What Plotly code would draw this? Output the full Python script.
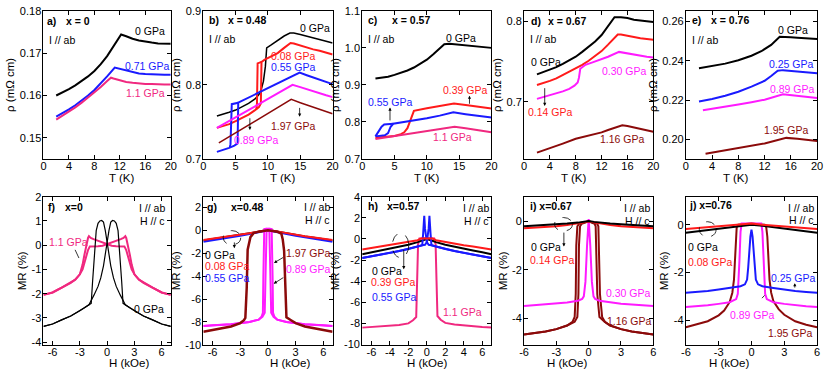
import plotly.graph_objects as go

FONT = "Arial, 'Liberation Sans', sans-serif"
BLACK = "#000000"
RED = "#ff1a1a"
BLUE = "#1a1aff"
MAGENTA = "#ff1aff"
PINK = "#f0287f"
DARKRED = "#8b0a0a"

# ---------------- (a) x = 0 ----------------
A_T_0 = [2, 3, 4, 5, 6, 7, 8, 9, 10, 11, 11.8, 12.2, 13, 14, 15, 16, 17, 18, 19, 20]
A_RHO_0 = [0.1600, 0.1607, 0.1615, 0.1624, 0.1634, 0.1645, 0.1658, 0.1674, 0.1693, 0.1716, 0.1735, 0.1744, 0.1740,
           0.1734, 0.1730, 0.1727, 0.1725, 0.1723, 0.1722, 0.1722]
A_T_071 = [2, 3, 4, 5, 6, 7, 8, 9, 10, 11.2, 12, 13, 14, 15, 16, 17, 18, 19, 20]
A_RHO_071 = [0.1550, 0.1558, 0.1567, 0.1577, 0.1588, 0.1600, 0.1613, 0.1628, 0.1645, 0.1666, 0.1663, 0.1658, 0.1655,
             0.1652, 0.1651, 0.1650, 0.1650, 0.1649, 0.1649]
A_T_11 = [2, 3, 4, 5, 6, 7, 8, 9, 10, 10.6, 11, 12, 13, 14, 15, 16, 17, 18, 19, 20]
A_RHO_11 = [0.1543, 0.1552, 0.1562, 0.1572, 0.1583, 0.1595, 0.1607, 0.1620, 0.1634, 0.1642, 0.1640, 0.1636, 0.1632,
            0.1630, 0.1628, 0.1627, 0.1627, 0.1626, 0.1626, 0.1626]

# ---------------- (b) x = 0.48 ----------------
B_T_0 = [2.1, 3, 4, 5, 6, 7, 8, 8.6, 9.0, 9.3, 9.6, 9.8, 10.5, 11.5, 12.5, 13.4, 14, 15, 16, 17, 18, 19, 20]
B_RHO_0 = [0.758, 0.760, 0.763, 0.766, 0.770, 0.775, 0.781, 0.787, 0.795, 0.805, 0.825, 0.850, 0.854, 0.860, 0.866,
           0.870, 0.870, 0.868, 0.866, 0.864, 0.861, 0.859, 0.8565]
B_T_008 = [2.1, 3, 4, 5, 6, 7, 8, 8.6, 8.9, 9.0, 9.5, 10.5, 11.5, 12.5, 13.5, 14, 15, 16, 17, 18, 19, 20]
B_RHO_008 = [0.742, 0.744, 0.747, 0.751, 0.755, 0.760, 0.766, 0.770, 0.775, 0.831, 0.834, 0.838, 0.843, 0.850, 0.8565,
             0.856, 0.853, 0.850, 0.848, 0.846, 0.843, 0.841]
B_T_008_LOOP = [9.0, 8.4, 8.3, 8.2]
B_RHO_008_LOOP = [0.831, 0.829, 0.775, 0.767]
B_T_055 = [2.1, 3, 4, 4.8, 5.3, 5.4, 6, 7, 8, 9, 10, 11, 12, 13, 14.9, 16, 17, 18, 19, 20]
B_RHO_055 = [0.7096, 0.712, 0.715, 0.718, 0.721, 0.776, 0.7786, 0.7829, 0.7871, 0.7914, 0.7956, 0.7999, 0.8041, 0.8084,
             0.8165, 0.813, 0.810, 0.807, 0.804, 0.801]
B_T_055_LOOP = [5.4, 4.4, 4.2, 4.1]
B_RHO_055_LOOP = [0.776, 0.774, 0.720, 0.716]
B_T_089 = [2.1, 4, 6, 8, 10, 12, 13.8, 15, 16, 17, 18, 19, 20]
B_RHO_089 = [0.742, 0.751, 0.761, 0.771, 0.781, 0.791, 0.800, 0.797, 0.794, 0.791, 0.788, 0.786, 0.7835]
B_T_197 = [2.4, 4, 6, 8, 10, 12, 13.6, 15, 16, 17, 18, 19, 20]
B_RHO_197 = [0.7217, 0.730, 0.741, 0.751, 0.7617, 0.772, 0.7804, 0.776, 0.773, 0.770, 0.767, 0.764, 0.761]

# ---------------- (c) x = 0.57 ----------------
C_T_0 = [2.05, 3, 4, 5, 6, 7, 8, 9, 10, 11, 12, 12.7, 13.5, 14, 15, 16, 17, 18, 19, 20]
C_RHO_0 = [0.917, 0.919, 0.922, 0.927, 0.932, 0.939, 0.947, 0.957, 0.968, 0.983, 1.000, 1.010, 1.011, 1.010, 1.009,
           1.007, 1.005, 1.003, 1.002, 1.000]
C_T_039 = [2.05, 3, 4, 5, 6, 6.5, 7.0, 7.4, 7.8, 8.0, 10, 12, 14.2, 16, 18, 20]
C_RHO_039 = [0.757, 0.758, 0.759, 0.762, 0.767, 0.772, 0.783, 0.803, 0.825, 0.830, 0.837, 0.844, 0.850, 0.846, 0.841,
             0.8365]
C_T_055 = [2.05, 2.5, 3.0, 3.5, 4.0, 4.4, 4.8, 6, 8, 10, 12, 14.1, 16, 18, 20]
C_RHO_055 = [0.761, 0.762, 0.763, 0.764, 0.770, 0.787, 0.795, 0.798, 0.803, 0.810, 0.817, 0.826, 0.821, 0.816, 0.812]
C_T_055_LOOP = [2.05, 2.6, 3.0, 3.4, 4.8]
C_RHO_055_LOOP = [0.761, 0.775, 0.787, 0.793, 0.795]
C_T_11 = [2.05, 4, 6, 8, 10, 12, 14.3, 16, 18, 20]
C_RHO_11 = [0.754, 0.759, 0.765, 0.770, 0.776, 0.781, 0.787, 0.783, 0.777, 0.772]

# ---------------- (d) x = 0.67 ----------------
D_T = [2, 3, 4, 5, 6, 7, 8, 9, 10, 11, 12, 13, 13.5, 14, 15, 16, 17, 18, 19, 20]
D_RHO_0 = [0.734, 0.737, 0.740, 0.743, 0.747, 0.751, 0.756, 0.762, 0.768, 0.775, 0.783, 0.794, 0.801, 0.805, 0.805,
           0.804, 0.802, 0.801, 0.800, 0.799]
D_T_014 = [2, 3, 4, 5, 6, 7, 8, 9, 10, 11, 12, 13, 14, 14.5, 15, 16, 17, 18, 19, 20]
D_RHO_014 = [0.7208, 0.723, 0.726, 0.729, 0.733, 0.737, 0.741, 0.746, 0.751, 0.757, 0.763, 0.771, 0.780, 0.7836, 0.7836,
             0.782, 0.780, 0.779, 0.778, 0.777]
D_T_030 = [2, 3, 4, 5, 6, 7, 7.8, 8.3, 8.5, 8.7, 9.5, 10.6, 12, 13, 14.7, 16, 17, 18, 19, 20]
D_RHO_030 = [0.7036, 0.706, 0.708, 0.710, 0.713, 0.716, 0.720, 0.724, 0.730, 0.741, 0.746, 0.749, 0.753, 0.756, 0.762,
             0.760, 0.759, 0.757, 0.756, 0.755]
D_T_116 = [2, 4, 6, 8, 10, 12, 13, 14, 15.2, 16, 17, 18, 19, 20]
D_RHO_116 = [0.6368, 0.642, 0.648, 0.654, 0.658, 0.662, 0.665, 0.668, 0.6708, 0.670, 0.668, 0.666, 0.664, 0.6628]

# ---------------- (e) x = 0.76 ----------------
E_T_0 = [2, 4, 6, 8, 10, 11.5, 13, 14.3, 15, 16, 17, 18, 19, 20]
E_RHO_0 = [0.2362, 0.2372, 0.2385, 0.2402, 0.2425, 0.2448, 0.2480, 0.2521, 0.2521, 0.2519, 0.2517, 0.2515, 0.2512,
           0.2510]
E_T_025 = [2, 4, 6, 8, 10, 12, 13, 14, 14.8, 16, 17, 18, 19, 20]
E_RHO_025 = [0.2193, 0.2205, 0.2222, 0.2242, 0.2268, 0.2298, 0.2322, 0.2349, 0.2352, 0.2348, 0.2344, 0.2341, 0.2338,
             0.2336]
E_T_089 = [2.6, 4, 6, 8, 10, 12, 14.8, 16, 18, 20]
E_RHO_089 = [0.2148, 0.2155, 0.2166, 0.2177, 0.2189, 0.2202, 0.2229, 0.2225, 0.2218, 0.2210]
E_T_195 = [3, 6, 9, 12, 15.3, 17, 20]
E_RHO_195 = [0.1928, 0.1945, 0.1962, 0.1980, 0.2008, 0.2004, 0.1992]

# ---------------- (f) x = 0 MR ----------------
F_H_0A = [-7, -6, -5, -4, -3, -2.5, -2, -1.75, -1.6, -1.4, -1.2, -1.0, -0.8, -0.6, -0.4, -0.2, 0, 0.2, 0.4, 0.7, 1.0,
          1.45, 2.0, 2.5, 3, 4, 5, 6, 7]
F_H_0B = [7, 6, 5, 4, 3, 2.5, 2, 1.75, 1.6, 1.4, 1.2, 1.0, 0.8, 0.6, 0.4, 0.2, 0, -0.2, -0.4, -0.7, -1.0,
          -1.45, -2.0, -2.5, -3, -4, -5, -6, -7]
F_MR_0 = [-3.35, -3.25, -3.08, -2.92, -2.7, -2.58, -2.48, -2.4, -1.5, -0.2, 0.6, 0.9, 1.0, 1.02, 0.95, 0.6, 0.05, -0.45,
          -0.85, -1.35, -1.7, -2.06, -2.46, -2.58, -2.7, -2.92, -3.08, -3.25, -3.35]
F_H_11A = [-7, -6, -5, -4, -3.5, -3, -2.7, -2.5, -2.3, -2.1, -2.0, -1.8, -1.5, -1.0, -0.5, 0, 0.5, 1.0, 1.5, 1.9,
           2.1, 2.3, 2.5, 2.7, 3, 3.5, 4, 5, 6, 7]
F_H_11B = [7, 6, 5, 4, 3.5, 3, 2.7, 2.5, 2.3, 2.1, 2.0, 1.8, 1.5, 1.0, 0.5, 0, -0.5, -1.0, -1.5, -1.9,
           -2.1, -2.3, -2.5, -2.7, -3, -3.5, -4, -5, -6, -7]
F_MR_11 = [-2.05, -1.95, -1.75, -1.55, -1.42, -1.2, -0.8, -0.4, 0.0, 0.3, 0.37, 0.3, 0.25, 0.18, 0.1, 0.03, -0.02,
           -0.04, -0.05, -0.05, -0.2, -0.5, -0.8, -1.0, -1.2, -1.42, -1.55, -1.75, -1.95, -2.05]

# ---------------- (g) x = 0.48 MR ----------------
G_H = [-7, -6, -5, -4, -3, -2, -1, -0.5, 0, 0.5, 1, 2, 3, 4, 5, 6, 7]
G_MR_0 = [-0.9, -0.78, -0.66, -0.55, -0.42, -0.28, -0.13, -0.05, 0, -0.05, -0.13, -0.28, -0.42, -0.55, -0.66, -0.78,
          -0.9]
G_MR_008 = [-0.85, -0.74, -0.63, -0.52, -0.4, -0.26, -0.11, -0.03, 0.03, -0.03, -0.11, -0.26, -0.4, -0.52, -0.63,
            -0.74, -0.85]
G_MR_055 = [-1.0, -0.88, -0.75, -0.62, -0.48, -0.33, -0.17, -0.08, 0, -0.08, -0.17, -0.33, -0.48, -0.62, -0.75, -0.88,
            -1.0]
G_H_089A = [-7, -6, -4, -2, -1, -0.7, -0.55, -0.5, -0.4, -0.1, 0.15, 0.25, 0.35, 0.6, 1, 2, 4, 6, 7]
G_H_089B = [7, 6, 4, 2, 1, 0.7, 0.55, 0.5, 0.4, 0.1, -0.15, -0.25, -0.35, -0.6, -1, -2, -4, -6, -7]
G_MR_089 = [-8.35, -8.3, -8.2, -8.0, -7.8, -7.55, -7.2, -4.0, 0.1, 0.15, 0.0, -3.5, -7.2, -7.55, -7.8, -8.0, -8.2,
            -8.3, -8.35]
G_H_197 = [-7, -6, -5, -4, -3, -2.6, -2.45, -2.3, -2.2, -1.9, -1.56, -1.0, 0, 1.0, 1.45, 1.6, 1.75, 1.9, 2.0, 2.5, 3,
           4, 5, 6, 7]
G_MR_197 = [-8.85, -8.7, -8.55, -8.4, -8.1, -7.85, -7.65, -5.0, -1.7, -0.6, -0.25, -0.12, 0.0, -0.12, -0.3, -0.8,
            -1.8, -5.0, -7.6, -7.85, -8.1, -8.4, -8.55, -8.7, -8.85]

# ---------------- (h) x = 0.57 MR ----------------
H_H = [-7, -6, -5, -4, -3, -2, -1, -0.6, 0, 0.6, 1, 2, 3, 4, 5, 6, 7]
H_MR_039 = [-1.0, -0.85, -0.72, -0.6, -0.45, -0.3, -0.12, 0.05, 0.08, 0.05, -0.12, -0.3, -0.45, -0.6, -0.72, -0.85,
            -1.0]
H_MR_0 = [-1.45, -1.27, -1.1, -0.93, -0.75, -0.55, -0.3, -0.17, 0.0, -0.17, -0.3, -0.55, -0.75, -0.93, -1.1, -1.27,
          -1.45]
H_H_055A = [-7, -6, -5, -4, -3, -2, -1, -0.5, -0.4, -0.28, -0.2, -0.1, 0, 0.2, 0.4, 0.5, 1, 2, 3, 4, 5, 6, 7]
H_H_055B = [7, 6, 5, 4, 3, 2, 1, 0.5, 0.4, 0.28, 0.2, 0.1, 0, -0.2, -0.4, -0.5, -1, -2, -3, -4, -5, -6, -7]
H_MR_055 = [-1.8, -1.65, -1.5, -1.32, -1.15, -0.95, -0.72, -0.6, 0.5, 2.2, 1.0, 0.0, -0.3, -0.55, -0.62, -0.6, -0.72,
            -0.95, -1.15, -1.32, -1.5, -1.65, -1.8]
H_H_11 = [-7, -6, -5, -4, -3, -2, -1.5, -1.15, -1.05, -0.95, -0.8, 0, 0.8, 0.95, 1.05, 1.15, 1.5, 2, 3, 4, 5, 6, 7]
H_MR_11 = [-8.4, -8.35, -8.3, -8.25, -8.15, -8.0, -7.7, -7.4, -4.0, -0.5, 0.05, 0.1, 0.05, -0.5, -4.0, -7.3, -7.65,
           -7.95, -8.1, -8.2, -8.3, -8.35, -8.4]

# ---------------- (i) x = 0.67 MR ----------------
I_H = [-6, -5, -4, -3, -2, -1, -0.5, 0, 0.5, 1, 2, 3, 4, 5, 6]
I_MR_0 = [-0.2, -0.18, -0.15, -0.12, -0.09, -0.05, -0.02, 0.02, -0.02, -0.05, -0.09, -0.12, -0.15, -0.18, -0.2]
I_MR_014 = [-0.28, -0.26, -0.23, -0.2, -0.15, -0.08, -0.04, 0.0, -0.04, -0.08, -0.15, -0.2, -0.23, -0.26, -0.28]
I_H_030 = [-6, -5, -4, -3, -2, -1, -0.6, -0.45, -0.3, -0.15, 0, 0.15, 0.3, 0.45, 0.6, 1, 2, 3, 4, 5, 6]
I_MR_030 = [-3.5, -3.47, -3.43, -3.4, -3.35, -3.28, -3.2, -3.1, -2.5, -1.0, 0.1, -1.0, -2.5, -3.1, -3.2, -3.28, -3.35,
            -3.4, -3.43, -3.47, -3.5]
I_H_116A = [-6, -5, -4, -3, -2, -1.5, -1.3, -1.2, -1.15, -1.05, -0.9, 0, 0.55, 0.65, 0.7, 0.8, 1.0, 1.5, 2, 3, 4, 5, 6]
I_H_116B = [-6, -5, -4, -3, -2, -1.3, -1.05, -0.95, -0.9, -0.8, -0.65, 0, 0.8, 0.9, 0.95, 1.05, 1.25, 1.5, 2, 3, 4,
            5, 6]
I_MR_116 = [-4.67, -4.62, -4.55, -4.45, -4.3, -4.15, -3.95, -3.0, -1.0, -0.2, -0.1, 0.0, -0.1, -0.2, -1.0, -3.0, -3.95,
            -4.15, -4.3, -4.45, -4.55, -4.62, -4.67]

# ---------------- (j) x = 0.76 MR ----------------
J_H = [-6, -5, -4, -3, -2, -1, 0, 1, 2, 3, 4, 5, 6]
J_MR_0 = [-0.33, -0.27, -0.21, -0.15, -0.1, -0.04, 0.0, -0.04, -0.1, -0.15, -0.21, -0.27, -0.33]
J_MR_008 = [-0.18, -0.14, -0.1, -0.07, -0.04, 0.0, 0.05, 0.0, -0.04, -0.07, -0.1, -0.14, -0.18]
J_H_025 = [-6, -5, -4, -3, -2, -1, -0.6, -0.4, -0.3, -0.2, -0.1, 0, 0.1, 0.2, 0.3, 0.4, 0.6, 1, 2, 3, 4, 5, 6]
J_MR_025 = [-2.85, -2.82, -2.78, -2.72, -2.65, -2.58, -2.5, -2.3, -1.8, -1.1, -0.5, -0.2, -0.5, -1.1, -1.8, -2.3, -2.5,
            -2.58, -2.65, -2.72, -2.78, -2.82, -2.85]
J_H_089 = [-6, -5, -4, -3, -2, -1.4, -1.25, -1.1, -1.0, -0.9, 0, 0.9, 1.0, 1.1, 1.25, 1.4, 2, 3, 4, 5, 6]
J_MR_089 = [-3.45, -3.42, -3.38, -3.32, -3.25, -3.12, -2.9, -1.5, -0.3, 0.05, 0.05, 0.05, -0.3, -1.5, -2.9, -3.12,
            -3.25, -3.32, -3.38, -3.42, -3.45]
J_H_195 = [-6, -5, -4, -3, -2.5, -2, -1.75, -1.6, -1.5, -1.45, -1.35, -1.2, 0, 1.2, 1.35, 1.45, 1.55, 1.65, 1.8, 2,
           2.5, 3, 4, 5, 6]
J_MR_195 = [-4.3, -4.18, -4.05, -3.8, -3.6, -3.25, -2.85, -2.3, -1.3, -0.5, -0.1, 0.0, 0.05, 0.0, -0.1, -0.5, -1.3,
            -2.3, -2.85, -3.2, -3.55, -3.78, -4.05, -4.2, -4.3]

# ---------------- layout helpers ----------------
W, HGT = 830, 376
COLS = [(39, 168), (201, 332), (362, 493), (526, 657), (690, 823)]
ROWS = [(5, 158), (197, 350)]
XTITLE_Y = [178, 369]

fig = go.Figure()


def ax_id(n):
    return "" if n == 1 else str(n)


def setup_axes(n, col, row, xr, yr, xt, yt, ytext, xtitle, ytitle, xtext=None):
    x0, x1 = COLS[col]
    y0, y1 = ROWS[row]
    common = dict(ticks="inside", ticklen=4, tickwidth=1, showline=True, linecolor="black", linewidth=1,
                  mirror="ticks", showgrid=False, zeroline=False, tickfont=dict(size=11, color="black"),
                  tickcolor="black", fixedrange=True)
    fig.layout["xaxis" + ax_id(n)] = dict(
        domain=[x0 / W, x1 / W], range=xr, tickvals=xt,
        ticktext=xtext if xtext else [str(v) for v in xt],
        anchor="y" + ax_id(n), ticklabelstandoff=-3, **common)
    fig.layout["yaxis" + ax_id(n)] = dict(
        domain=[1 - y1 / HGT, 1 - y0 / HGT], range=yr, tickvals=yt, ticktext=ytext,
        anchor="x" + ax_id(n), ticklabelstandoff=-1,
        title=dict(text=ytitle, font=dict(size=11.5), standoff=2), **common)
    # x-axis title placed as paper text so it sits where the reference puts it
    fig.add_annotation(x=(x0 + x1) / 2 / W, y=1 - XTITLE_Y[row] / HGT, xref="paper", yref="paper",
                       text=xtitle, showarrow=False, yanchor="middle", font=dict(size=11.5))


def line(n, x, y, color, width=2):
    fig.add_trace(go.Scatter(x=x, y=y, mode="lines", line=dict(color=color, width=width),
                             xaxis="x" + ax_id(n), yaxis="y" + ax_id(n), hoverinfo="skip"))


def text(n, x, y, s, color=BLACK, anchor="center", size=10.5, bold=False):
    fig.add_annotation(x=x, y=y, xref="x" + ax_id(n), yref="y" + ax_id(n), text="<b>%s</b>" % s if bold else s,
                       showarrow=False, xanchor=anchor, font=dict(size=size, color=color))


def arrow(n, x0, y0, x1, y1, head=2):
    fig.add_annotation(x=x1, y=y1, ax=x0, ay=y0, xref="x" + ax_id(n), yref="y" + ax_id(n),
                       axref="x" + ax_id(n), ayref="y" + ax_id(n), text="", showarrow=True,
                       arrowhead=head, arrowsize=0.8, arrowwidth=0.8, arrowcolor="black")


def ellipse(n, cx, cy, rx, ry):
    fig.add_shape(type="circle", xref="x" + ax_id(n), yref="y" + ax_id(n), x0=cx - rx, x1=cx + rx,
                  y0=cy - ry, y1=cy + ry, line=dict(color="black", width=0.8, dash="dash"))


RHO = "\u03c1 (m\u03a9 cm)"
labels = lambda vals: [str(v) for v in vals]

# (a)
setup_axes(1, 0, 0, [0, 20], [0.145, 0.18], [0, 4, 8, 12, 16, 20], [0.15, 0.16, 0.17, 0.18],
           ["0.15", "0.16", "0.17", "0.18"], "T (K)", RHO)
line(1, A_T_0, A_RHO_0, BLACK)
line(1, A_T_071, A_RHO_071, BLUE)
line(1, A_T_11, A_RHO_11, PINK)
text(1, 0.2, 0.1777, "a)", anchor="left", bold=True)
text(1, 3.3, 0.1777, "x = 0", anchor="left", bold=True)
text(1, 0.6, 0.1731, "I // ab", anchor="left")
text(1, 16.7, 0.1752, "0 GPa")
text(1, 16.3, 0.1670, "0.71 GPa", BLUE)
text(1, 16.1, 0.1605, "1.1 GPa", PINK)

# (b)
setup_axes(2, 1, 0, [0, 20], [0.7, 0.9], [0, 5, 10, 15, 20], [0.7, 0.8, 0.9], ["0.7", "0.8", "0.9"],
           "T (K)", RHO)
line(2, B_T_0, B_RHO_0, BLACK, 1.5)
line(2, B_T_008, B_RHO_008, RED)
line(2, B_T_008_LOOP, B_RHO_008_LOOP, RED)
line(2, B_T_055, B_RHO_055, BLUE)
line(2, B_T_055_LOOP, B_RHO_055_LOOP, BLUE)
line(2, B_T_089, B_RHO_089, MAGENTA)
line(2, B_T_197, B_RHO_197, DARKRED, 1.5)
text(2, 0.5, 0.887, "b)", anchor="left", bold=True)
text(2, 3.5, 0.887, "x = 0.48", anchor="left", bold=True)
text(2, 0.5, 0.8617, "I // ab", anchor="left")
text(2, 17.2, 0.877, "0 GPa")
text(2, 13.9, 0.8395, "0.08 GPa", RED)
text(2, 13.9, 0.8235, "0.55 GPa", BLUE)
text(2, 13.9, 0.745, "1.97 GPa", DARKRED)
text(2, 8.3, 0.725, "0.89 GPa", MAGENTA)
arrow(2, 14.9, 0.771, 14.9, 0.757)
arrow(2, 7.2, 0.757, 7.2, 0.739)

# (c)
setup_axes(3, 2, 0, [0, 20], [0.7, 1.1], [0, 5, 10, 15, 20], [0.7, 0.8, 0.9, 1.0, 1.1],
           ["0.7", "0.8", "0.9", "1.0", "1.1"], "T (K)", RHO)
line(3, C_T_0, C_RHO_0, BLACK)
line(3, C_T_039, C_RHO_039, RED)
line(3, C_T_055, C_RHO_055, BLUE)
line(3, C_T_055_LOOP, C_RHO_055_LOOP, BLUE)
line(3, C_T_11, C_RHO_11, PINK)
text(3, 0.6, 1.074, "c)", anchor="left", bold=True)
text(3, 4.3, 1.074, "x = 0.57", anchor="left", bold=True)
text(3, 0.6, 1.0235, "I // ab", anchor="left")
text(3, 15.3, 1.026, "0 GPa")
text(3, 16.0, 0.885, "0.39 GPa", RED)
text(3, 4.4, 0.854, "0.55 GPa", BLUE)
text(3, 14.0, 0.758, "1.1 GPa", PINK)
arrow(3, 16.6, 0.845, 16.6, 0.871)
arrow(3, 4.3, 0.800, 4.3, 0.839)

# (d)
setup_axes(4, 3, 0, [0, 20], [0.629, 0.813], [0, 4, 8, 12, 16, 20], [0.7, 0.8], ["0.7", "0.8"], "T (K)", RHO)
line(4, D_T, D_RHO_0, BLACK)
line(4, D_T_014, D_RHO_014, RED)
line(4, D_T_030, D_RHO_030, MAGENTA)
line(4, D_T_116, D_RHO_116, DARKRED)
text(4, 0.7, 0.8008, "d)", anchor="left", bold=True)
text(4, 3.4, 0.8008, "x = 0.67", anchor="left", bold=True)
text(4, 0.6, 0.7776, "I // ab", anchor="left")
text(4, 3.4, 0.750, "0 GPa")
text(4, 15.5, 0.7388, "0.30 GPa", MAGENTA)
text(4, 4.15, 0.6876, "0.14 GPa", RED)
text(4, 15.3, 0.654, "1.16 GPa", DARKRED)
arrow(4, 3.2, 0.7188, 3.2, 0.6948)

# (e)
setup_axes(5, 4, 0, [0, 20], [0.1901, 0.2653], [0, 4, 8, 12, 16, 20], [0.20, 0.22, 0.24, 0.26],
           ["0.20", "0.22", "0.24", "0.26"], "T (K)", RHO)
line(5, E_T_0, E_RHO_0, BLACK)
line(5, E_T_025, E_RHO_025, BLUE)
line(5, E_T_089, E_RHO_089, MAGENTA)
line(5, E_T_195, E_RHO_195, DARKRED)
text(5, 0.6, 0.2605, "e)", anchor="left", bold=True)
text(5, 3.6, 0.2605, "x = 0.76", anchor="left", bold=True)
text(5, 0.6, 0.2506, "I // ab", anchor="left")
text(5, 16.3, 0.2554, "0 GPa")
text(5, 16.1, 0.2385, "0.25 GPa", BLUE)
text(5, 16.3, 0.2254, "0.89 GPa", MAGENTA)
text(5, 15.3, 0.2046, "1.95 GPa", DARKRED)

# (f)
HX7 = [-6, -3, 0, 3, 6]
setup_axes(6, 0, 1, [-7, 7], [-4.11, 2.0], HX7, [-4, -3, -2, -1, 0, 1, 2], labels([-4, -3, -2, -1, 0, 1, 2]),
           "H (kOe)", "MR (%)", xtext=labels(HX7))
line(6, F_H_11A, F_MR_11, PINK)
line(6, F_H_11B, F_MR_11, PINK)
line(6, F_H_0A, F_MR_0, BLACK, 1.2)
line(6, F_H_0B, F_MR_0, BLACK, 1.2)
text(6, -6.7, 1.59, "f)", anchor="left", bold=True)
text(6, -4.9, 1.59, "x=0", anchor="left", bold=True)
text(6, 6.6, 1.52, "I // ab", anchor="right")
text(6, 6.6, 0.98, "H // c", anchor="right")
text(6, -4.3, 0.12, "1.1 GPa", PINK)
arrow(6, -3.6, -0.13, -3.1, -0.53, head=0)
text(6, 4.6, -2.65, "0 GPa")

# (g)
setup_axes(7, 1, 1, [-7, 7], [-10, 2.93], HX7, [-10, -8, -6, -4, -2, 0, 2],
           labels([-10, -8, -6, -4, -2, 0, 2]), "H (kOe)", "MR (%)", xtext=labels(HX7))
line(7, G_H, G_MR_0, BLACK)
line(7, G_H, G_MR_055, BLUE)
line(7, G_H, G_MR_008, RED)
line(7, G_H_089A, G_MR_089, MAGENTA)
line(7, G_H_089B, G_MR_089, MAGENTA)
line(7, G_H_197, G_MR_197, DARKRED, 2.5)
text(7, -6.8, 2.0, "g)", anchor="left", bold=True)
text(7, -4.2, 2.0, "x=0.48", anchor="left", bold=True)
text(7, 6.9, 2.05, "I // ab", anchor="right")
text(7, 6.9, 0.92, "H // c", anchor="right")
text(7, -7.0, -2.13, "0 GPa", anchor="left")
text(7, -7.0, -3.12, "0.08 GPa", RED, anchor="left")
text(7, -7.0, -4.16, "0.55 GPa", BLUE, anchor="left")
text(7, 4.4, -1.94, "1.97 GPa", DARKRED)
text(7, 4.35, -3.34, "0.89 GPa", MAGENTA)
ellipse(7, -3.9, -0.65, 0.95, 0.62)
arrow(7, -3.64, -0.93, -3.64, -1.57)
arrow(7, 1.8, -2.3, 0.65, -2.85)
arrow(7, 1.82, -4.05, 0.62, -4.66)

# (h)
setup_axes(8, 2, 1, [-7, 7], [-10.03, 4], [-6, -4, -2, 0, 2, 4, 6], [-10, -8, -6, -4, -2, 0, 2, 4],
           labels([-10, -8, -6, -4, -2, 0, 2, 4]), "H (kOe)", "MR (%)", xtext=labels([-6, -4, -2, 0, 2, 4, 6]))
line(8, H_H_11, H_MR_11, PINK)
line(8, H_H, H_MR_0, BLACK)
line(8, H_H_055A, H_MR_055, BLUE)
line(8, H_H_055B, H_MR_055, BLUE)
line(8, H_H, H_MR_039, RED)
text(8, -6.6, 3.09, "h)", anchor="left", bold=True)
text(8, -4.55, 3.09, "x=0.57", anchor="left", bold=True)
text(8, 6.9, 2.9, "I // ab", anchor="right")
text(8, 6.9, 1.74, "H // c", anchor="right")
text(8, -6.2, -3.03, "0 GPa", anchor="left")
text(8, -6.3, -4.1, "0.39 GPa", RED, anchor="left")
text(8, -6.2, -5.47, "0.55 GPa", BLUE, anchor="left")
text(8, 3.86, -6.94, "1.1 GPa", PINK)
ellipse(8, -2.85, -0.61, 0.89, 1.16)
arrow(8, -2.5, -0.89, -2.5, -2.87)

# (i)
HX6 = [-6, -3, 0, 3, 6]
setup_axes(9, 3, 1, [-6, 6], [-5.1, 1.02], HX6, [-4, -2, 0], labels([-4, -2, 0]), "H (kOe)", "MR (%)",
           xtext=labels(HX6))
line(9, I_H_116A, I_MR_116, DARKRED)
line(9, I_H_116B, I_MR_116, DARKRED)
line(9, I_H_030, I_MR_030, MAGENTA)
line(9, I_H, I_MR_014, RED)
line(9, I_H, I_MR_0, BLACK)
text(9, -5.6, 0.63, "i) x=0.67", anchor="left", bold=True)
text(9, 5.9, 0.56, "I // ab", anchor="right")
text(9, 5.9, 0.03, "H // c", anchor="right")
text(9, -5.55, -1.04, "0 GPa", anchor="left")
text(9, -5.65, -1.6, "0.14 GPa", RED, anchor="left")
text(9, 3.66, -2.97, "0.30 GPa", MAGENTA)
text(9, 3.8, -4.1, "1.16 GPa", DARKRED)
ellipse(9, -2.34, -0.12, 0.83, 0.28)
arrow(9, -2.3, -0.4, -2.3, -1.04)

# (j)
setup_axes(10, 4, 1, [-6, 6], [-5.04, 1.18], HX6, [-4, -2, 0], labels([-4, -2, 0]), "H (kOe)", "MR (%)",
           xtext=labels(HX6))
line(10, J_H_195, J_MR_195, DARKRED)
line(10, J_H_089, J_MR_089, MAGENTA)
line(10, J_H_025, J_MR_025, BLUE)
line(10, J_H, J_MR_0, BLACK)
line(10, J_H, J_MR_008, RED)
text(10, -5.85, 0.84, "j) x=0.76", anchor="left", bold=True)
text(10, 5.9, 0.72, "I // ab", anchor="right")
text(10, 5.9, 0.19, "H // c", anchor="right")
text(10, -5.95, -0.92, "0 GPa", anchor="left")
text(10, -5.95, -1.55, "0.08 GPa", RED, anchor="left")
text(10, 3.8, -2.23, "0.25 GPa", BLUE)
text(10, 0.06, -3.78, "0.89 GPa", MAGENTA)
text(10, 3.53, -4.54, "1.95 GPa", DARKRED)
ellipse(10, -4.0, -0.19, 0.77, 0.32)
arrow(10, 3.96, -2.7, 3.96, -2.45)
arrow(10, 1.33, -2.9, 0.96, -3.08, head=0)

fig.update_layout(
    width=W, height=HGT, margin=dict(l=0, r=0, t=0, b=0),
    paper_bgcolor="white", plot_bgcolor="white", showlegend=False,
    font=dict(family=FONT, size=11, color="black"),
)

# the page body has a default 8px margin; drop it so the figure fills the window
fig.write_html("out.html", config={"displayModeBar": False},
               post_script="document.body.style.margin='0px';")
